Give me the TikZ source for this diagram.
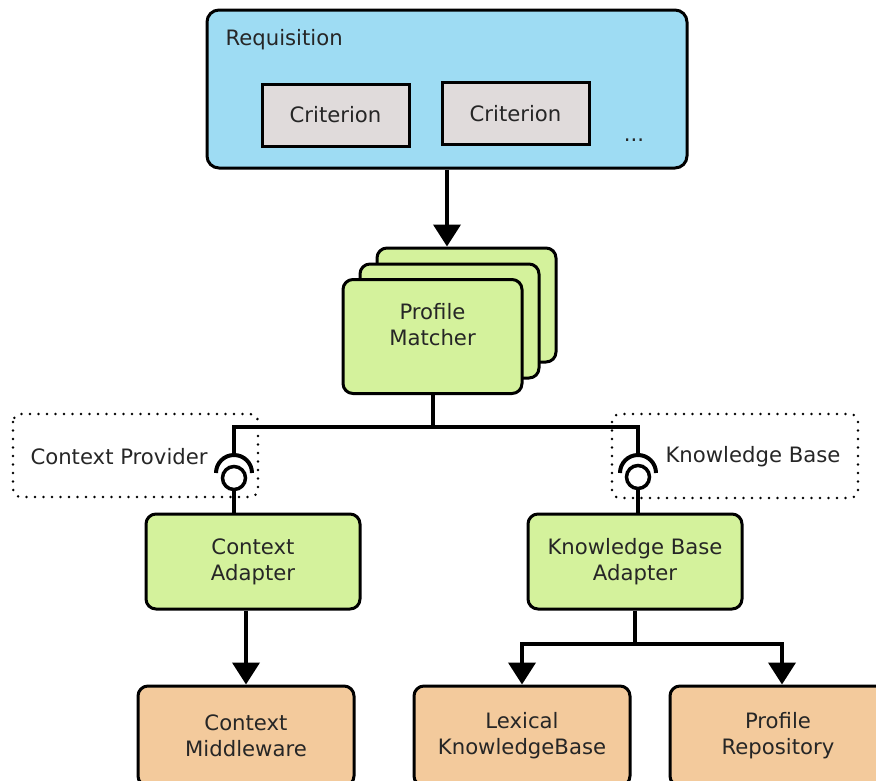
\documentclass[tikz,border=0pt]{standalone}
\usepackage{fontspec}
\setmainfont{DejaVu Sans}
\usepackage{tikz}
\usetikzlibrary{arrows.meta}

\definecolor{reqblue}{RGB}{158,220,243}
\definecolor{critgrey}{RGB}{224,219,219}
\definecolor{compgreen}{RGB}{212,242,156}
\definecolor{extorange}{RGB}{243,202,156}

\tikzset{
  box/.style={draw, line width=3pt, rounded corners=10pt, align=center,
              text=black!85, font=\fontsize{21.2}{26}\selectfont},
  comp/.style={box, fill=compgreen, minimum width=214pt, minimum height=95pt},
  ext/.style={box, fill=extorange, minimum width=216pt, minimum height=100pt},
  crit/.style={box, fill=critgrey, rounded corners=0pt, minimum width=147pt, minimum height=62pt},
  card/.style={box, fill=compgreen, minimum width=179pt, minimum height=114pt},
  wire/.style={line width=4pt},
  conn/.style={wire, -{Triangle[width=27pt,length=22pt]}},
  provbox/.style={line width=2.8pt, dash pattern=on 0pt off 8.5pt, line cap=round, rounded corners=8pt},
  lbl/.style={text=black!85, font=\fontsize{21.2}{26}\selectfont, align=center}
}

\begin{document}
\begin{tikzpicture}[x=1pt,y=-1pt]
\clip (0,0) rectangle (876,780);

% requisition with its criteria
\node[box, fill=reqblue, rounded corners=12pt, minimum width=480pt, minimum height=158pt] (req) at (447,89) {};
\node[lbl, anchor=west] (reqlbl) at (222,40) {Requisition};
\node[crit] (crit1) at (335.5,115) {Criterion};
\node[crit] (crit2) at (515.5,113.5) {Criterion};
\node[lbl] (more) at (634,140) {...};

% profile matcher, stacked back to front
\node[card] (back) at (466.5,305) {};
\node[card] (mid) at (449.5,321) {};
\node[card] (front) at (432.5,336.5) {};
\node[lbl] (frontlbl) at (432.5,325) {Profile\\Matcher};

\draw[conn] (req.south) -- (req.south |- back.north);

% required interfaces
\draw[provbox] (13,414) rectangle (258,497);
\node[lbl, anchor=west] (provlbl) at (27,457) {Context Provider};
\draw[provbox] (612,414) rectangle (858,498);
\node[lbl, anchor=west] (kblbl) at (662,457) {Knowledge Base};

\coordinate (sockL) at (234,455);
\coordinate (sockR) at (638,455);
\draw[wire] (front.south) -- ++(0,32) -| (sockL);
\draw[wire] (front.south) -- ++(0,32) -| (sockR);
\draw[wire] (216,473) arc[start angle=180, end angle=360, radius=18];
\draw[wire] (620,473) arc[start angle=180, end angle=360, radius=18];
\node[draw, circle, line width=3.5pt, fill=white, minimum size=23pt, inner sep=0pt] (ballL) at (234,478) {};
\node[draw, circle, line width=3.5pt, fill=white, minimum size=23pt, inner sep=0pt] (ballR) at (638,477) {};

% adapters
\node[comp] (ctxad) at (253,561.5) {Context\\Adapter};
\node[comp] (kbad) at (635,561.5) {Knowledge Base\\Adapter};
\draw[wire] (ballL.south) -- (ballL.south |- ctxad.north);
\draw[wire] (ballR.south) -- (ballR.south |- kbad.north);

% backends
\node[ext] (ctxmw) at (246,736) {Context\\Middleware};
\node[ext] (lex) at (522,736) {Lexical\\KnowledgeBase};
\node[ext] (repo) at (778,736) {Profile\\Repository};

\draw[conn] (ctxmw.north |- ctxad.south) -- (ctxmw.north);
\draw[conn] (kbad.south) -- ++(0,33) -| (lex.north);
\draw[conn] (kbad.south) -- ++(0,33) -| ([xshift=4pt]repo.north);
\end{tikzpicture}
\end{document}
